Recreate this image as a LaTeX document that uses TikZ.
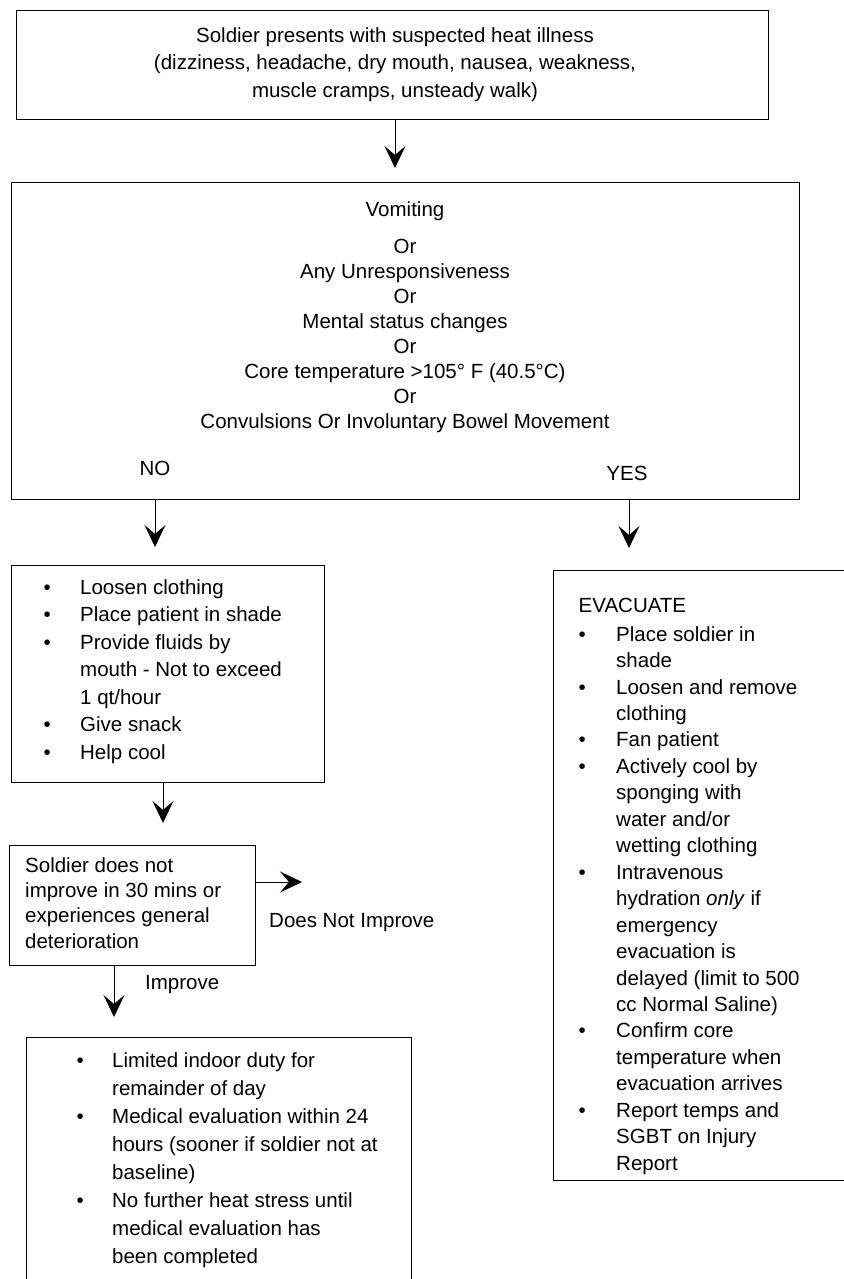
\documentclass[tikz,border=0pt]{standalone}
\usepackage{fontspec}
\setmainfont{Liberation Sans}
\usetikzlibrary{arrows.meta}
\begin{document}
\begin{tikzpicture}[x=1pt,y=-1pt,
  box/.style={draw, line width=1.1pt, inner sep=0pt, anchor=north west},
  arr/.style={line width=0.9pt, -{Stealth[length=22pt,width=21pt,inset=9pt]}},
  lbl/.style={inner sep=0pt, font=\fontsize{20.5}{25}\selectfont}]
\useasboundingbox (0,0) rectangle (843,1279);
% boxes
\node[box, minimum width=752pt, minimum height=109pt] (b1) at (16,10) {};
\node[box, minimum width=788pt, minimum height=317pt] (b2) at (11,182) {};
\node[box, minimum width=313pt, minimum height=217pt] (b3) at (11,565) {};
\node[box, minimum width=246pt, minimum height=120pt] (b4) at (9,845) {};
\node[box, minimum width=385pt, minimum height=262pt] (b5) at (26,1037) {};
\node[box, minimum width=300pt, minimum height=610pt] (b6) at (553,570) {};
% texts
\node[lbl, anchor=north] (t1) at (395,22.75) {\fontsize{20.5}{27.5}\selectfont
  \begin{tabular}{@{}c@{}}Soldier presents with suspected heat illness\\
  (dizziness, headache, dry mouth, nausea, weakness,\\
  muscle cramps, unsteady walk)\end{tabular}};
\node[lbl, anchor=north] (t2) at (405,198.4) {\fontsize{20.5}{25.1}\selectfont
  \begin{tabular}{@{}c@{}}Vomiting\\[12pt]
  Or\\ Any Unresponsiveness\\ Or\\ Mental status changes\\ Or\\
  Core temperature >105° F (40.5°C)\\ Or\\
  Convulsions Or Involuntary Bowel Movement\end{tabular}};
\node[lbl, anchor=base] (no) at (155,475) {NO};
\node[lbl, anchor=base] (yes) at (627,480) {YES};
\node[lbl, anchor=north west] (t3) at (43.5,574.75) {\fontsize{20.5}{27.5}\selectfont
  \begin{tabular}{@{}p{36.5pt}@{}l@{}}
  \textbullet & Loosen clothing\\
  \textbullet & Place patient in shade\\
  \textbullet & Provide fluids by\\
   & mouth - Not to exceed\\
   & 1 qt/hour\\
  \textbullet & Give snack\\
  \textbullet & Help cool\end{tabular}};
\node[lbl, anchor=north west] (t4) at (25,854.3) {\fontsize{20.5}{25.3}\selectfont
  \begin{tabular}{@{}l@{}}Soldier does not\\ improve in 30 mins or\\
  experiences general\\ deterioration\end{tabular}};
\node[lbl, anchor=base west] (dnil) at (269,927) {Does Not Improve};
\node[lbl, anchor=base west] (impl) at (145,989) {Improve};
\node[lbl, anchor=north west] (t5) at (76.5,1047.4) {\fontsize{20.5}{28}\selectfont
  \begin{tabular}{@{}p{35.5pt}@{}l@{}}
  \textbullet & Limited indoor duty for\\
   & remainder of day\\
  \textbullet & Medical evaluation within 24\\
   & hours (sooner if soldier not at\\
   & baseline)\\
  \textbullet & No further heat stress until\\
   & medical evaluation has\\
   & been completed\end{tabular}};
\node[lbl, anchor=north west] (t6) at (578.5,593.5) {\fontsize{20.5}{26.45}\selectfont
  \begin{tabular}{@{}p{37.5pt}@{}l@{}}
  \multicolumn{2}{@{}l@{}}{EVACUATE}\\[2.5pt]
  \textbullet & Place soldier in\\
   & shade\\
  \textbullet & Loosen and remove\\
   & clothing\\
  \textbullet & Fan patient\\
  \textbullet & Actively cool by\\
   & sponging with\\
   & water and/or\\
   & wetting clothing\\
  \textbullet & Intravenous\\
   & hydration \textit{only} if\\
   & emergency\\
   & evacuation is\\
   & delayed (limit to 500\\
   & cc Normal Saline)\\
  \textbullet & Confirm core\\
   & temperature when\\
   & evacuation arrives\\
  \textbullet & Report temps and\\
   & SGBT on Injury\\
   & Report\end{tabular}};
% arrow columns
\coordinate (xa) at (395,0);
\coordinate (xno) at (155,0);
\coordinate (xyes) at (629,0);
\coordinate (xl) at (163,0);
\coordinate (xi) at (114,0);
\coordinate (dni) at (302,882);
% connectors
\draw[arr, shorten >=14pt] (b1.south -| xa) -- (b2.north -| xa);
\draw[arr, shorten >=18pt] (b2.south -| xno) -- (b3.north -| xno);
\draw[arr, shorten >=22pt] (b2.south -| xyes) -- (b6.north -| xyes);
\draw[arr, shorten >=22pt] (b3.south -| xl) -- (b4.north -| xl);
\draw[arr] (b4.east |- dni) -- (dni);
\draw[arr, shorten >=20pt] (b4.south -| xi) -- (b5.north -| xi);
\end{tikzpicture}
\end{document}
